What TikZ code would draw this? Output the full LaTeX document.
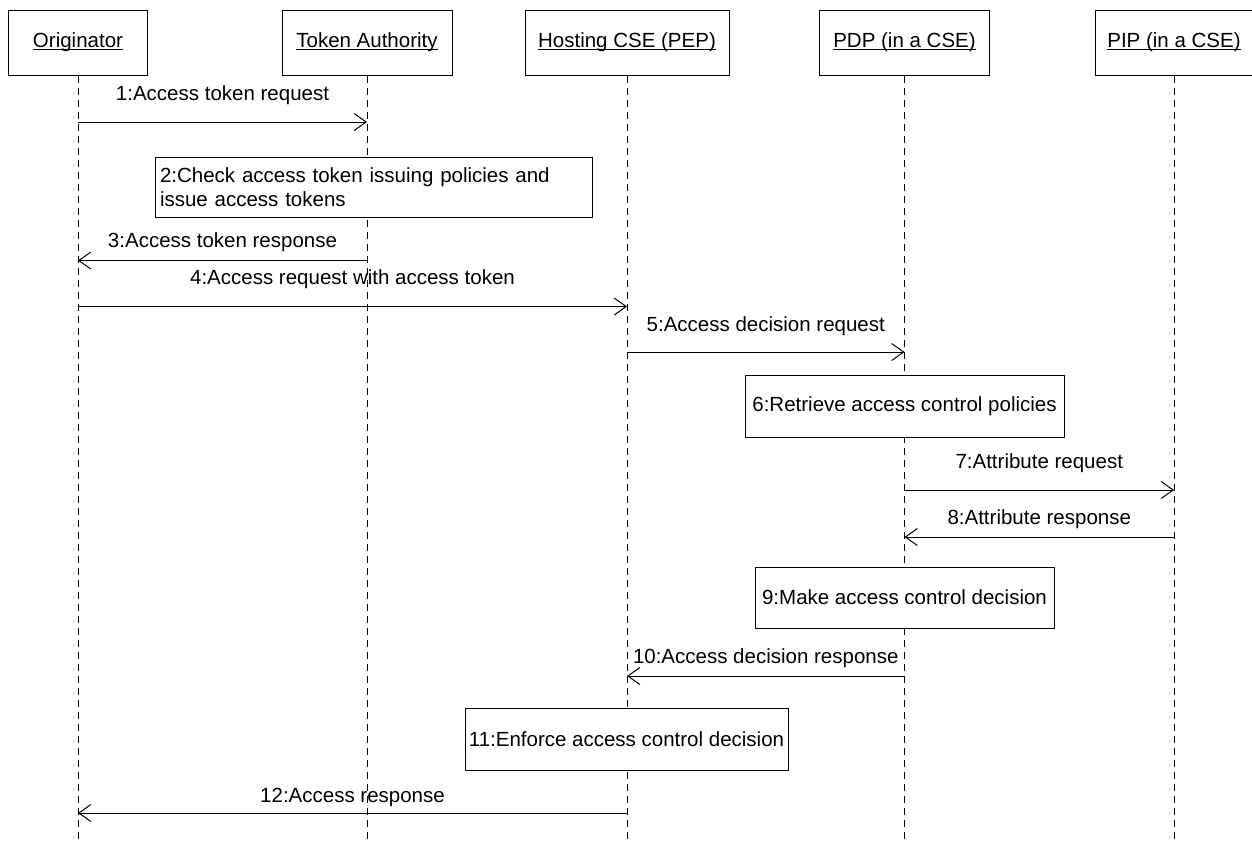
\documentclass[tikz,border=0pt]{standalone}
\usepackage{fontspec}
\setmainfont{Liberation Sans}
\usetikzlibrary{arrows.meta}
\newcommand\hdline[1]{\setbox0\hbox{#1}\rlap{\rule[-1.2pt]{\wd0}{0.5pt}}\box0}

\begin{document}
\begin{tikzpicture}[x=0.5pt, y=-0.5pt,
    every node/.style={font=\fontsize{10.25}{12}\selectfont},
    head/.style={draw, fill=white, line width=0.5pt, minimum height=32.5pt, inner sep=0pt},
    actbox/.style={draw, fill=white, line width=0.5pt, inner sep=0pt},
    life/.style={line width=0.5pt, dash pattern=on 3.5pt off 2.5pt},
    msg/.style={line width=0.5pt, -{Straight Barb[length=6pt, width=8.5pt, line width=0.5pt]}},
    lbl/.style={anchor=base, inner sep=0pt}]
      \useasboundingbox (0,0) rectangle (1252,843);
      \node[head, minimum width=69.5pt] (orig) at (78,42.5) {\hdline{Originator}};
      \node[head, minimum width=85pt] (ta) at (367,42.5) {\hdline{Token Authority}};
      \node[head, minimum width=102pt] (pep) at (627,42.5) {\hdline{Hosting CSE (PEP)}};
      \node[head, minimum width=85pt] (pdp) at (904.5,42.5) {\hdline{PDP (in a CSE)}};
      \node[head, minimum width=79pt] (pip) at (1174,42.5) {\hdline{PIP (in a CSE)}};
      \coordinate (bot) at (0,843);
      \draw[life] (orig) -- (orig |- bot);
      \draw[life] (ta) -- (ta |- bot);
      \draw[life] (pep) -- (pep |- bot);
      \draw[life] (pdp) -- (pdp |- bot);
      \draw[life] (pip) -- (pip |- bot);
      % activity boxes
      \node[actbox, minimum width=218.5pt, minimum height=30pt, text width=213.5pt, align=left] (act2) at (373.5,187) {2:Check access token issuing policies and\\issue access tokens};
      \node[actbox, minimum width=159.5pt, minimum height=31pt] (act6) at (904.5,406) {6:Retrieve access control policies};
      \node[actbox, minimum width=149.5pt, minimum height=30.5pt] (act9) at (904.5,597.5) {9:Make access control decision};
      \node[actbox, minimum width=161.5pt, minimum height=31pt] (act11) at (626.5,739) {11:Enforce access control decision};
      % messages
      \coordinate (m1) at (0,122);
      \coordinate (m3) at (0,260.5);
      \coordinate (m4) at (0,306.5);
      \coordinate (m5) at (0,352);
      \coordinate (m7) at (0,490);
      \coordinate (m8) at (0,537);
      \coordinate (m10) at (0,676);
      \coordinate (m12) at (0,813);
      \draw[msg] (orig |- m1) -- node[lbl, yshift=11pt] {1:Access token request} (ta |- m1);
      \draw[msg] (ta |- m3) -- node[lbl, yshift=6.5pt] {3:Access token response} (orig |- m3);
      \draw[msg] (orig |- m4) -- node[lbl, yshift=11pt] {4:Access request with access token} (pep |- m4);
      \draw[msg] (pep |- m5) -- node[lbl, yshift=10.5pt] {5:Access decision request} (pdp |- m5);
      \draw[msg] (pdp |- m7) -- node[lbl, yshift=11pt] {7:Attribute request} (pip |- m7);
      \draw[msg] (pip |- m8) -- node[lbl, yshift=6.5pt] {8:Attribute response} (pdp |- m8);
      \draw[msg] (pdp |- m10) -- node[lbl, yshift=6.5pt] {10:Access decision response} (pep |- m10);
      \draw[msg] (pep |- m12) -- node[lbl, yshift=5.5pt] {12:Access response} (orig |- m12);
    \end{tikzpicture}
\end{document}
